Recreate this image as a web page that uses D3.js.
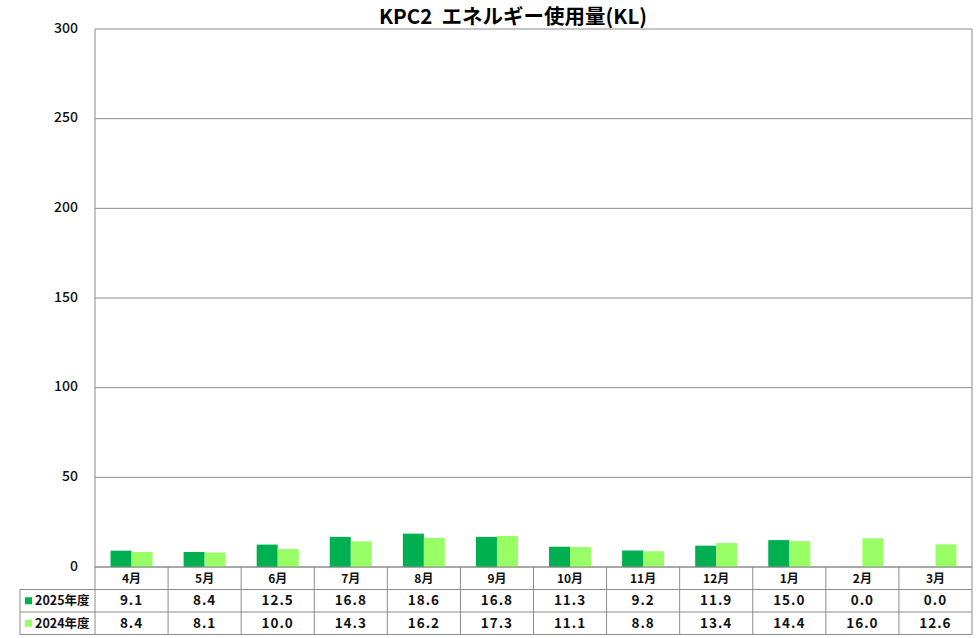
<!DOCTYPE html>
<html>
<head>
<meta charset="utf-8">
<script src="https://cdn.jsdelivr.net/npm/d3@7/dist/d3.min.js"></script>
<style>
  body { margin: 0; background: #fff; }
  svg { display: block; font-family: "Noto Sans CJK JP", "Noto Sans", sans-serif; }
</style>
</head>
<body>
<svg id="chart" width="977" height="638"></svg>
<script>
const months = ['4月', '5月', '6月', '7月', '8月', '9月', '10月', '11月', '12月', '1月', '2月', '3月'];
const seriesNames = ['2025年度', '2024年度'];
const values2025 = [9.1, 8.4, 12.5, 16.8, 18.6, 16.8, 11.3, 9.2, 11.9, 15.0, 0.0, 0.0];
const values2024 = [8.4, 8.1, 10.0, 14.3, 16.2, 17.3, 11.1, 8.8, 13.4, 14.4, 16.0, 12.6];
const yTicks = [0, 50, 100, 150, 200, 250, 300];
const colors = ['#00B050', '#99FF66'];

const seriesValues = [values2025, values2024];
const margin = {top: 29, left: 95, right: 5, bottom: 71};
const width = 977, height = 638;
const plotW = width - margin.left - margin.right;
const plotH = height - margin.top - margin.bottom;
const rowH = 22.5;
const tableLeft = 20;
const gridColor = '#8c8c8c';

const svg = d3.select('#chart');
const g = svg.append('g').attr('transform', `translate(${margin.left},${margin.top})`);

const x = d3.scaleBand().domain(months).range([0, plotW]).paddingInner(0).paddingOuter(0);
const xs = d3.scaleBand().domain(seriesNames).range([0, x.bandwidth()]).paddingInner(0).paddingOuter(0.738);
const y = d3.scaleLinear().domain([0, 300]).range([plotH, 0]);

// gridlines
g.selectAll('line.grid').data(yTicks).join('line')
  .attr('class', 'grid')
  .attr('x1', 0).attr('x2', plotW)
  .attr('y1', d => y(d)).attr('y2', d => y(d))
  .attr('stroke', gridColor).attr('stroke-width', 1);

// y labels
g.selectAll('text.ylab').data(yTicks).join('text')
  .attr('class', 'ylab')
  .attr('x', -17).attr('y', d => y(d))
  .attr('text-anchor', 'end').attr('dominant-baseline', 'middle')
  .style('font-size', '14px').style('font-weight', '500').attr('fill', '#111')
  .text(d => d);

// bars
seriesNames.forEach((name, si) => {
  g.append('g').selectAll('rect').data(months).join('rect')
    .attr('x', (m) => x(m) + xs(name))
    .attr('y', (m, i) => y(seriesValues[si][i]))
    .attr('width', xs.bandwidth())
    .attr('height', (m, i) => plotH - y(seriesValues[si][i]))
    .attr('fill', colors[si]);
});

// plot frame (left, right)
g.append('line').attr('x1', 0).attr('x2', 0).attr('y1', 0).attr('y2', plotH).attr('stroke', gridColor);
g.append('line').attr('x1', plotW).attr('x2', plotW).attr('y1', 0).attr('y2', plotH).attr('stroke', gridColor);

// data table
const t = g.append('g').attr('transform', `translate(0,${plotH})`);
const tl = tableLeft - margin.left;
// horizontal lines
t.append('line').attr('x1', 0).attr('x2', plotW).attr('y1', 0).attr('y2', 0).attr('stroke', gridColor);
[1, 2, 3].forEach(r => {
  t.append('line').attr('x1', tl).attr('x2', plotW).attr('y1', r * rowH).attr('y2', r * rowH).attr('stroke', gridColor);
});
// vertical lines
t.append('line').attr('x1', tl).attr('x2', tl).attr('y1', rowH).attr('y2', 3 * rowH).attr('stroke', gridColor);
months.forEach(m => {
  t.append('line').attr('x1', x(m)).attr('x2', x(m)).attr('y1', 0).attr('y2', 3 * rowH).attr('stroke', gridColor);
});
t.append('line').attr('x1', plotW).attr('x2', plotW).attr('y1', 0).attr('y2', 3 * rowH).attr('stroke', gridColor);

// month headers
t.selectAll('text.mon').data(months).join('text')
  .attr('class', 'mon')
  .attr('x', d => x(d) + x.bandwidth() / 2).attr('y', rowH / 2 + 1)
  .attr('text-anchor', 'middle').attr('dominant-baseline', 'middle')
  .style('font-size', '12px').style('font-weight', 'bold').attr('fill', '#111')
  .text(d => d);

// series rows
seriesNames.forEach((name, si) => {
  const ry = (si + 1) * rowH + rowH / 2 + 1;
  t.append('rect').attr('x', tl + 5).attr('y', ry - 4.5).attr('width', 7).attr('height', 7).attr('fill', colors[si]);
  t.append('text').attr('x', tl + 15).attr('y', ry)
    .attr('dominant-baseline', 'middle')
    .style('font-size', '12.5px').style('font-weight', 'bold').attr('fill', '#111')
    .text(name);
  t.selectAll(null).data(months).join('text')
    .attr('x', d => x(d) + x.bandwidth() / 2).attr('y', ry)
    .attr('text-anchor', 'middle').attr('dominant-baseline', 'middle')
    .style('font-size', '13.5px').style('font-weight', 'bold').style('letter-spacing', '1px').attr('fill', '#111')
    .text((d, i) => seriesValues[si][i].toFixed(1));
});

// title
svg.append('text')
  .attr('x', 513).attr('y', 18)
  .attr('text-anchor', 'middle').attr('dominant-baseline', 'middle')
  .style('font-size', '20.5px').style('font-weight', 'bold').attr('fill', '#000')
  .attr('xml:space', 'preserve')
  .text('KPC2  エネルギー使用量(KL)');
</script>
</body>
</html>
